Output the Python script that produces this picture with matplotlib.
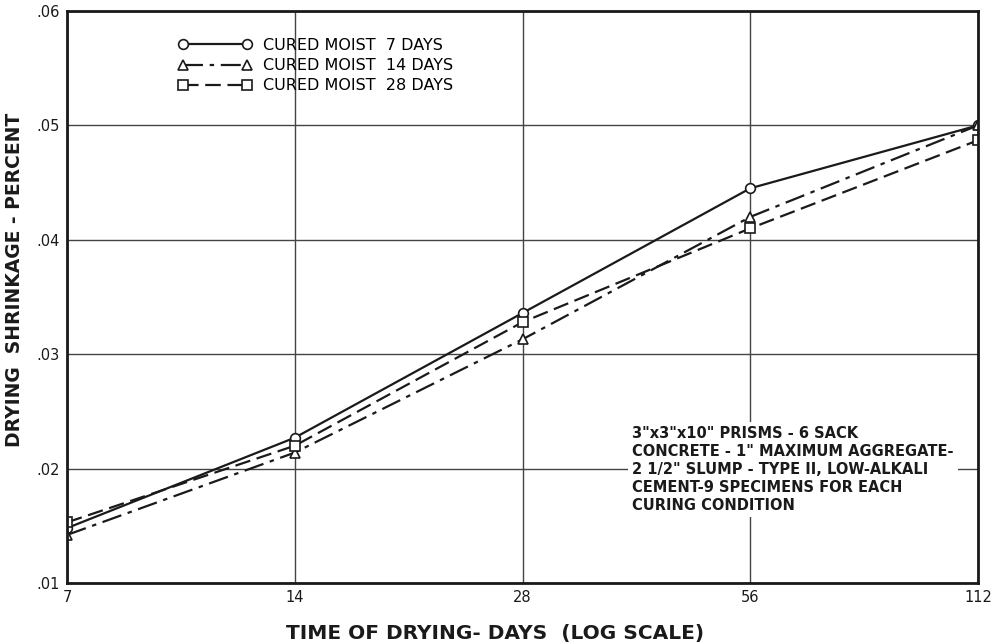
import matplotlib.pyplot as plt
import matplotlib.transforms as mtransforms
from matplotlib.ticker import FixedLocator, NullLocator

days = [7, 14, 28, 56, 112]
moist_7 = [0.0148, 0.0227, 0.0336, 0.0445, 0.0500]
moist_14 = [0.0142, 0.0214, 0.0313, 0.0420, 0.0500]
moist_28 = [0.0153, 0.0220, 0.0328, 0.0410, 0.0487]
labels = ["CURED MOIST  7 DAYS", "CURED MOIST  14 DAYS", "CURED MOIST  28 DAYS"]
y_ticks = [0.01, 0.02, 0.03, 0.04, 0.05, 0.06]
note = ('3"x3"x10" PRISMS - 6 SACK\n'
        'CONCRETE - 1" MAXIMUM AGGREGATE-\n'
        '2 1/2" SLUMP - TYPE II, LOW-ALKALI\n'
        'CEMENT-9 SPECIMENS FOR EACH\n'
        'CURING CONDITION')

plt.rcParams['font.family'] = ['DejaVu Sans']
fig = plt.figure(figsize=(9.91, 6.43), dpi=100)
ax = fig.add_axes([0.0676, 0.0933, 0.9194, 0.8897])

style = dict(color='#1a1a1a', lw=1.6, ms=7, markerfacecolor='white', markeredgewidth=1.2)
ax.plot(days, moist_7, '-', marker='o', label=labels[0], **style)
ax.plot(days, moist_14, marker='^', linestyle=(0, (9, 3, 2, 3)), label=labels[1], **style)
ax.plot(days, moist_28, marker='s', linestyle=(0, (7, 3)), label=labels[2], **style)

ax.set_xscale('log')
ax.set_xlim(7, 112)
ax.set_ylim(0.01, 0.06)
ax.xaxis.set_major_locator(FixedLocator(days))
ax.xaxis.set_minor_locator(NullLocator())
ax.set_xticklabels([str(d) for d in days])
ax.set_yticks(y_ticks)
ax.set_yticklabels(['.01', '.02', '.03', '.04', '.05', '.06'])
# labels sit a little above their gridlines in the original
shift = mtransforms.ScaledTranslation(0, 5 / 72, fig.dpi_scale_trans)
for lab in ax.get_yticklabels():
    lab.set_transform(lab.get_transform() + shift)
ax.tick_params(length=0, labelsize=10.5, pad=5, colors='#1a1a1a')
ax.grid(True, color='#444444', lw=1.0)
for s in ax.spines.values():
    s.set_linewidth(2.0)
    s.set_color('#1a1a1a')

ax.set_xlabel('TIME OF DRYING- DAYS  (LOG SCALE)', fontsize=14.5, fontweight='bold',
              color='#1a1a1a')
ax.xaxis.set_label_coords(0.47, -0.072)
ax.set_ylabel('DRYING  SHRINKAGE - PERCENT', fontsize=13.5, fontweight='bold',
              color='#1a1a1a')
ax.yaxis.set_label_coords(-0.047, 0.53)

ax.legend(loc='upper left', bbox_to_anchor=(0.106, 0.978), numpoints=2, frameon=False,
          handlelength=4.6, fontsize=11.5, labelspacing=0.33, handletextpad=0.7)

ax.text(0.62, 0.274, note, transform=ax.transAxes, fontsize=10.5, fontweight='bold',
        color='#1a1a1a', va='top', ha='left', linespacing=1.25,
        bbox=dict(facecolor='white', edgecolor='none', pad=3))

fig.savefig('out.png', dpi=100, facecolor='white')
